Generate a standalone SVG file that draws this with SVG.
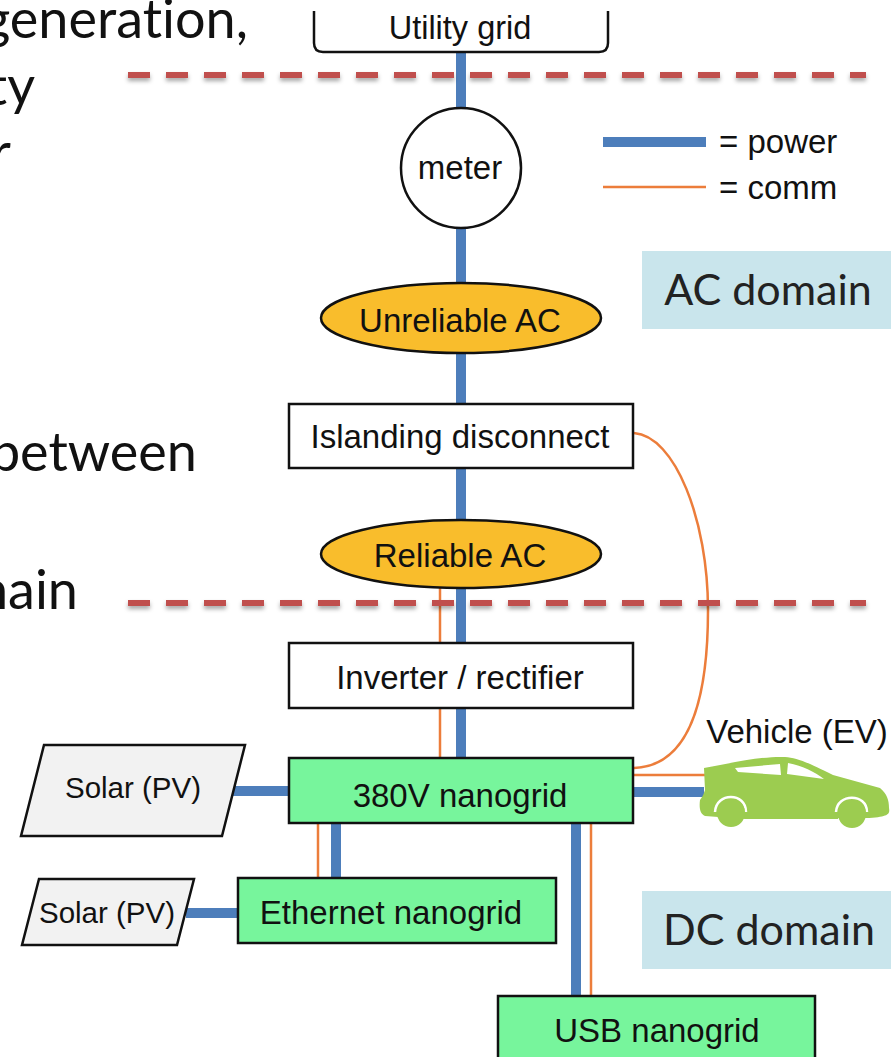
<svg xmlns="http://www.w3.org/2000/svg" width="891" height="1057" viewBox="0 0 891 1057">
<defs>
<style>
.t{font-family:"Liberation Sans",Arial,sans-serif;font-size:33px;fill:#111;text-anchor:middle}
.sm{font-size:29.5px}
.c{font-family:Lato,"Noto Sans",sans-serif;font-size:54px;fill:#111;text-anchor:end;font-variant-ligatures:none}
.d{font-family:Lato,"Noto Sans",sans-serif;font-size:43px;fill:#222;text-anchor:middle}
.b{stroke:#111;stroke-width:2.5}
.p{stroke:#4d7ebb;stroke-width:10;fill:none}
.o{stroke:#ec7d3b;stroke-width:2.5;fill:none}
.dash{stroke:#c0504d;stroke-width:6;stroke-dasharray:22 16;fill:none;filter:url(#sh)}
.g{fill:#77f59c}
.s{fill:#f2f2f2}
.y{fill:#f9bd2c}
.w{fill:#fff}
</style>
<filter id="sh" filterUnits="userSpaceOnUse" x="0" y="0" width="891" height="1057"><feDropShadow dx="0" dy="3" stdDeviation="2" flood-color="#000" flood-opacity="0.35"/></filter>
</defs>
<g id="caption">
<text class="c" x="248" y="38">generation,</text>
<text class="c" x="35" y="105">ty</text>
<text class="c" x="11" y="171">r</text>
<text class="c" x="197" y="471">between</text>
<text class="c" x="78" y="609">domain</text>
</g>
<g id="connectors">
<path class="o" d="M440 588V758"/>
<path class="p" d="M461 52V130M461 226V284M461 352V404M461 468V530M461 588V642M461 708V758"/>
<path class="o" d="M634 433C675 436 708 520 708 610C708 700 690 766 634 768"/>
<path class="o" d="M634 775H706"/>
<path class="p" d="M634 792H704"/>
<path class="p" d="M233 791H288"/>
<path class="o" d="M318 823V878"/>
<path class="p" d="M336 823V878"/>
<path class="p" d="M186 913H238"/>
<path class="p" d="M576 823V996"/>
<path class="o" d="M591 823V996"/>
<path d="M603 142H706" stroke="#4d7ebb" stroke-width="10"/>
<path class="o" d="M603 187H706"/>
</g>
<g id="boundaries">
<path class="dash" d="M128 75H866"/>
<path class="dash" d="M128 603H866"/>
</g>
<g id="utility-grid">
<path class="b" fill="none" d="M314 11V43Q314 52 323 52H599Q608 52 608 43V11"/>
<text class="t" x="460" y="39" style="font-size:32.5px">Utility grid</text>
</g>
<g id="legend">
<text class="t" x="719" y="153" style="text-anchor:start">= power</text>
<text class="t" x="719" y="199" style="text-anchor:start">= comm</text>
</g>
<g id="meter">
<circle class="w b" cx="461" cy="168" r="60"/>
<text class="t" x="460" y="179">meter</text>
</g>
<g id="ac-domain">
<rect x="642" y="251" width="249" height="78" fill="#c9e5ec"/>
<text class="d" x="768" y="305">AC domain</text>
</g>
<g id="unreliable-ac">
<ellipse class="y b" cx="461" cy="318" rx="140" ry="35"/>
<text class="t" x="460" y="332">Unreliable AC</text>
</g>
<g id="islanding-disconnect">
<rect class="w b" x="289" y="404" width="344" height="64"/>
<text class="t" x="460" y="448">Islanding disconnect</text>
</g>
<g id="reliable-ac">
<ellipse class="y b" cx="461" cy="554" rx="140" ry="34"/>
<text class="t" x="460" y="567">Reliable AC</text>
</g>
<g id="inverter-rectifier">
<rect class="w b" x="289" y="643" width="344" height="65"/>
<text class="t" x="460" y="689">Inverter / rectifier</text>
</g>
<g id="nanogrid-380v">
<rect class="g b" x="289" y="758" width="344" height="65"/>
<text class="t" x="460" y="807">380V nanogrid</text>
</g>
<g id="solar-1">
<path class="s b" d="M44 745H245L222 836H21Z"/>
<text class="t sm" x="133" y="798">Solar (PV)</text>
</g>
<g id="solar-2">
<path class="s b" d="M39 879H194L177 945H22Z"/>
<text class="t sm" x="107" y="923">Solar (PV)</text>
</g>
<g id="ethernet-nanogrid">
<rect class="g b" x="238" y="878" width="318" height="65"/>
<text class="t" x="391" y="924">Ethernet nanogrid</text>
</g>
<g id="usb-nanogrid">
<rect class="g b" x="498" y="996" width="317" height="66"/>
<text class="t" x="657" y="1042">USB nanogrid</text>
</g>
<g id="dc-domain">
<rect x="642" y="891" width="249" height="78" fill="#c9e5ec"/>
<text class="d" x="769" y="945">DC domain</text>
</g>
<g id="vehicle">
<text class="t" x="797" y="743">Vehicle (EV)</text>
<path fill="#9ccc50" d="M704 768C735 762 765 756 785 757C797 758 807 762 833 775L880 788C887 794 889 800 889 808C890 814 889 817 866 818H838V819H745L705 816C700 814 699 808 700 800C703 796 704 793 705 790Z"/>
<path fill="#fff" d="M735 768L780 764L781 775L738 772ZM788 763C803 766 815 772 824 779L787 774Z"/>
<path fill="none" stroke="#fff" stroke-width="2.5" d="M715 812C716 792 746 792 746 812M836 812C837 793 867 793 867 812"/>
<circle cx="731" cy="813" r="14" fill="#9ccc50"/>
<circle cx="852" cy="814" r="14" fill="#9ccc50"/>
</g>
</svg>
